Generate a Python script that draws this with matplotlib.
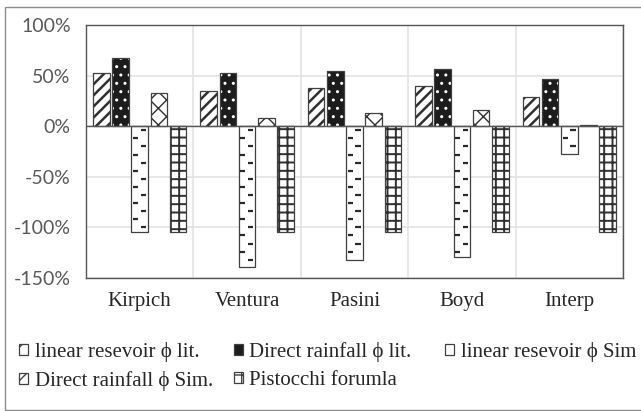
import numpy as np
import matplotlib
matplotlib.use('Agg')
import matplotlib.pyplot as plt
from matplotlib.patches import Rectangle
from matplotlib.collections import LineCollection
from matplotlib.ticker import PercentFormatter

categories = ['Kirpich', 'Ventura', 'Pasini', 'Boyd', 'Interp']
series_names = ['linear resevoir \u03d5 lit.', 'Direct rainfall \u03d5 lit.',
                'linear resevoir \u03d5 Sim', 'Direct rainfall \u03d5 Sim.',
                'Pistocchi forumla']
lr_lit = [53, 35, 38, 40, 29]
dr_lit = [67, 53, 55, 57, 47]
lr_sim = [-105, -139, -132, -129, -27]
dr_sim = [33, 8, 13, 16, 1]
pistocchi = [-105, -105, -105, -105, -105]
yticks = [100, 50, 0, -50, -100, -150]

EDGE = '#404040'
SERIF = ['Liberation Serif', 'DejaVu Serif']
plt.rcParams['axes.unicode_minus'] = False

# (hatch, face, hatch colour, hatch width) per series
styles = [('///', 'white', '#303030', 1.8),
          ('..', '#1c1c1c', 'white', 1.0),
          ('', 'white', 'white', 1.0),
          ('xx', 'white', '#303030', 1.0),
          ('++', 'white', '#303030', 1.4)]


def hatched_bars(ax, x, h, w, style):
    hatch, face, hcolor, hlw = style
    with plt.rc_context({'hatch.linewidth': hlw}):
        bars = ax.bar(x, h, w, color=face, edgecolor=hcolor, hatch=hatch,
                      linewidth=0, zorder=3)
    ax.bar(x, h, w, facecolor='none', edgecolor=EDGE, linewidth=0.9, zorder=4)
    return bars


def ruler_dashes(ax, bars, step=8.0):
    # short dashes alternating between the right and left sides of each bar
    segs = []
    for b in bars:
        x0, w, h = b.get_x(), b.get_width(), b.get_height()
        sign = -1 if h < 0 else 1
        y = step / 2
        k = 0
        while y < abs(h) - 2:
            yy = sign * y
            if k % 2 == 0:
                segs.append([(x0 + 0.55 * w, yy), (x0 + 0.88 * w, yy)])
            else:
                segs.append([(x0 + 0.1 * w, yy), (x0 + 0.4 * w, yy)])
            y += step
            k += 1
    ax.add_collection(LineCollection(segs, colors='#2a2a2a', linewidths=1.6,
                                     zorder=5))


fig = plt.figure(figsize=(6.41, 4.11), dpi=100)
ax = fig.add_axes([86 / 641, 1 - 278 / 411, 537 / 641, 253 / 411])

x = np.arange(len(categories))
step, width = 0.179, 0.154

b1 = hatched_bars(ax, x - 2 * step, lr_lit, width, styles[0])
b2 = hatched_bars(ax, x - step, dr_lit, width, styles[1])
b3 = hatched_bars(ax, x, lr_sim, width, styles[2])
ruler_dashes(ax, b3)
b4 = hatched_bars(ax, x + step, dr_sim, width, styles[3])
b5 = hatched_bars(ax, x + 2 * step, pistocchi, width, styles[4])

ax.set_xlim(-0.5, len(categories) - 0.5)
ax.set_ylim(-150, 100)
ax.set_yticks(yticks)
ax.yaxis.set_major_formatter(PercentFormatter(decimals=0))
ax.set_xticks(x)
ax.set_xticklabels(categories, family=SERIF, fontsize=15, color='#262626')
for lab in ax.get_yticklabels():
    lab.set_family(['Lato', 'DejaVu Sans'])
    lab.set_fontsize(14)
    lab.set_color('#595959')
ax.tick_params(axis='y', length=0, pad=11)
ax.tick_params(axis='x', length=0, pad=10)

ax.set_xticks(np.arange(len(categories) + 1) - 0.5, minor=True)
ax.grid(axis='y', which='major', color='#e3e3e3', linewidth=1.2, zorder=0)
ax.grid(axis='x', which='minor', color='#e3e3e3', linewidth=1.2, zorder=0)
ax.tick_params(axis='x', which='minor', length=0)
ax.set_axisbelow(True)
ax.axhline(0, color='#555555', linewidth=1.0, zorder=6)
for s in ax.spines.values():
    s.set_color('#555555')
    s.set_linewidth(1.0)

# legend keys: small squares with the same fills
handles = []
for hatch, face, hcolor, hlw in styles:
    if face == 'white' and hatch:
        handles.append(Rectangle((0, 0), 1, 1, facecolor='white',
                                 edgecolor=EDGE, hatch=hatch[0], linewidth=0.9))
    else:
        handles.append(Rectangle((0, 0), 1, 1, facecolor=face,
                                 edgecolor=EDGE, linewidth=0.9))

leg_kw = dict(loc='upper left', frameon=False,
              prop={'family': SERIF, 'size': 15}, handlelength=0.45,
              handleheight=0.45, handletextpad=0.3, columnspacing=1.0,
              labelspacing=0.42, borderpad=0, borderaxespad=0)
# first two columns (filled column by column), then the third column
order = [0, 3, 1, 4]
leg1 = fig.legend([handles[i] for i in order], [series_names[i] for i in order],
                  ncol=2, bbox_to_anchor=(19 / 641, 1 - 342 / 411), **leg_kw)
leg2 = fig.legend([handles[2]], [series_names[2]],
                  bbox_to_anchor=(445 / 641, 1 - 342 / 411), **leg_kw)
for leg in (leg1, leg2):
    for t in leg.get_texts():
        t.set_color('#262626')

# outer frame around the chart
fig.patches.append(Rectangle((5 / 641, 1 / 411), 1.1, 1 - 8 / 411,
                             transform=fig.transFigure, fill=False,
                             edgecolor='#8c8c8c', linewidth=1.0))

fig.savefig('out.png', dpi=100)
